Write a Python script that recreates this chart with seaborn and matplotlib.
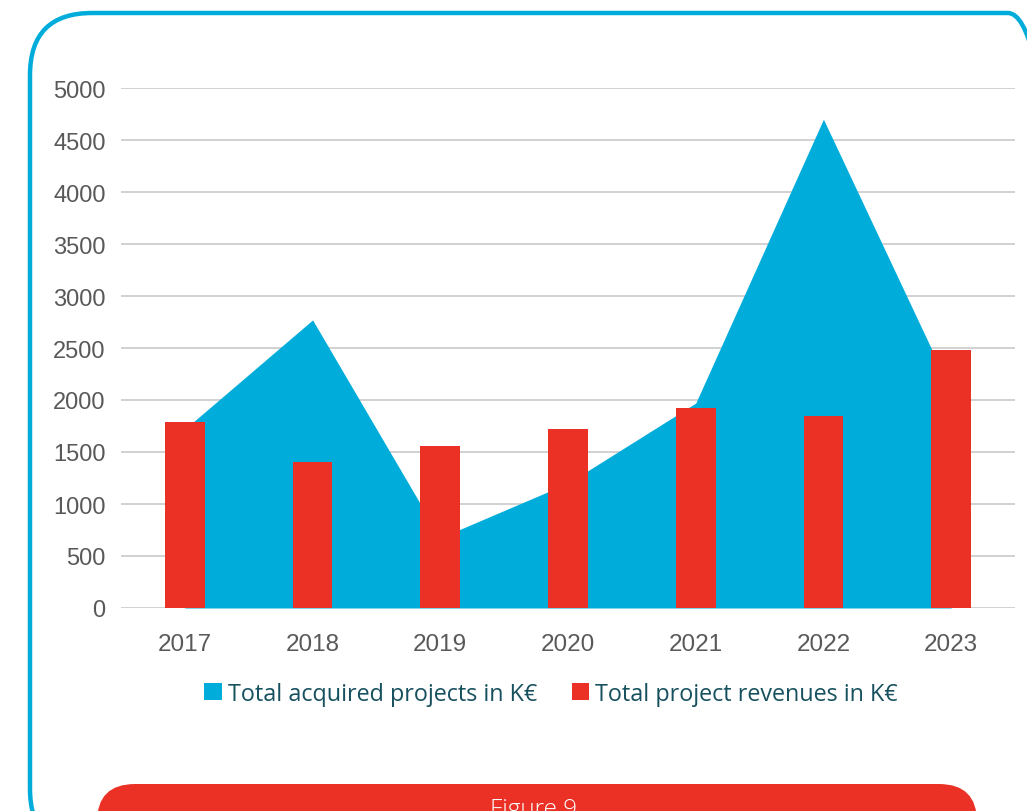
import numpy as np
import pandas as pd
import matplotlib
matplotlib.use("Agg")
import matplotlib.pyplot as plt
import seaborn as sns
from matplotlib.patches import FancyBboxPatch, Patch

years = ["2017", "2018", "2019", "2020", "2021", "2022", "2023"]
acquired = [1720, 2770, 675, 1200, 1970, 4700, 2090]
revenues = [1790, 1405, 1560, 1720, 1925, 1845, 2480]
yticks = [0, 500, 1000, 1500, 2000, 2500, 3000, 3500, 4000, 4500, 5000]
series_names = ["Total acquired projects in K€", "Total project revenues in K€"]
caption = "Figure 9"

BLUE = "#00ADDA"
RED = "#EB3125"

sns.set_theme(style="white")
plt.rcParams["font.family"] = ["Liberation Sans", "DejaVu Sans"]

W, H = 1027, 812
fig = plt.figure(figsize=(W / 100, H / 100), dpi=100)
fig.patch.set_facecolor("white")

# outer rounded border (display pixel coords)
border = FancyBboxPatch((30, -40), 1040, 40 + (H - 14), boxstyle="round,pad=0,rounding_size=62",
                        transform=None, facecolor="none", edgecolor=BLUE, linewidth=3.2, zorder=0)
fig.patches.append(border)

# caption red box
cap = FancyBboxPatch((97, -40), 880, 40 + (H - 785), boxstyle="round,pad=0,rounding_size=38",
                     transform=None, facecolor=RED, edgecolor="none", zorder=1)
fig.patches.append(cap)
fig.text(534 / W, 1 - 798 / H, caption, color="white", fontsize=17.5, ha="center", va="top",
         family=["Open Sans", "DejaVu Sans"], fontweight="light")

ax = fig.add_axes([121 / W, 1 - 609 / H, (1015 - 121) / W, (609 - 89) / H])
ax.set_facecolor("none")

df = pd.DataFrame({"year": years, "revenue": revenues})
x = np.arange(len(years))
ax.fill_between(x, acquired, 0, color=BLUE, linewidth=0, zorder=2)
sns.barplot(data=df, x="year", y="revenue", color=RED, width=0.31, saturation=1,
            ax=ax, zorder=3, linewidth=0)

ax.set_xlim(-0.5, len(years) - 0.5)
ax.set_ylim(0, 5000)
ax.set_yticks(yticks)
ax.set_yticklabels([str(v) for v in yticks])
ax.set_xlabel("")
ax.set_ylabel("")
for v in yticks:
    ax.axhline(v, color="#C9C9C9", linewidth=1.2, zorder=1)
for s in ax.spines.values():
    s.set_visible(False)
ax.tick_params(axis="y", labelsize=17, colors="#595959", length=0, pad=11)
ax.tick_params(axis="x", labelsize=17.5, colors="#595959", length=0, pad=18)

handles = [Patch(facecolor=BLUE, edgecolor="none"), Patch(facecolor=RED, edgecolor="none")]
leg = fig.legend(handles, series_names, loc="center", bbox_to_anchor=(551 / W, 1 - 695 / H),
                 ncol=2, frameon=False, handlelength=0.75, handleheight=0.75, handletextpad=0.25,
                 columnspacing=1.5, prop={"family": "Open Sans", "size": 16.8})
for t in leg.get_texts():
    t.set_color("#17505E")

fig.savefig("out.png", dpi=100)
